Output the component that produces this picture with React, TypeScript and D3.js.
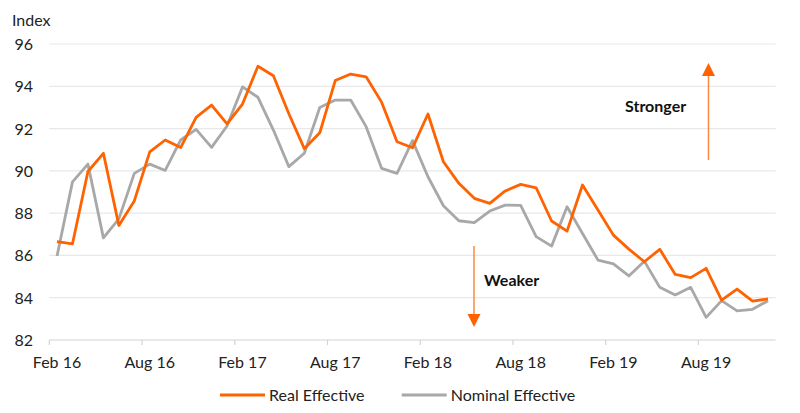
import React, { useRef, useEffect } from "react";
import * as d3 from "d3";

// monthly, Feb 2016 .. Dec 2019
const realEffective = [
  86.65, 86.55, 89.97, 90.83, 87.42, 88.58, 90.9, 91.46, 91.1, 92.53, 93.11, 92.22,
  93.16, 94.95, 94.5, 92.7, 91.05, 91.8, 94.27, 94.58, 94.45, 93.25, 91.38, 91.09,
  92.69, 90.43, 89.41, 88.7, 88.46, 89.05, 89.36, 89.2, 87.63, 87.15, 89.33, 88.15,
  86.96, 86.3, 85.7, 86.29, 85.1, 84.95, 85.39, 83.89, 84.41, 83.84, 83.94,
];
const nominalEffective = [
  85.97, 89.48, 90.32, 86.83, 87.73, 89.88, 90.32, 90.02, 91.46, 91.96, 91.11, 92.12,
  93.97, 93.48, 91.93, 90.2, 90.83, 93.0, 93.35, 93.35, 92.09, 90.12, 89.88, 91.43,
  89.72, 88.35, 87.64, 87.55, 88.1, 88.38, 88.37, 86.89, 86.44, 88.3, 87.04, 85.78,
  85.6, 85.03, 85.73, 84.49, 84.13, 84.49, 83.07, 83.86, 83.38, 83.45, 83.86,
];
const xLabels = ["Feb 16", "Aug 16", "Feb 17", "Aug 17", "Feb 18", "Aug 18", "Feb 19", "Aug 19"];
const yTicks = [82, 84, 86, 88, 90, 92, 94, 96];
const seriesNames = ["Real Effective", "Nominal Effective"];

const ORANGE = "#FF6200";
const GREY = "#A8A8A8";
const FONT = "Lato, 'Open Sans', sans-serif";

export default function App() {
  const ref = useRef<SVGSVGElement>(null);

  useEffect(() => {
    if (!ref.current) return;
    const svg = d3.select(ref.current);
    svg.selectAll("*").remove();

    const n = realEffective.length;
    const x = d3.scaleLinear().domain([-0.5, n - 0.5]).range([49.3, 775.7]);
    const y = d3.scaleLinear().domain([82, 96]).range([340, 44]);

    // gridlines
    svg.append("g")
      .selectAll("line")
      .data(yTicks.filter(t => t > 82))
      .join("line")
      .attr("x1", x(-0.5))
      .attr("x2", x(n - 0.5))
      .attr("y1", d => y(d))
      .attr("y2", d => y(d))
      .attr("stroke", "#E8E8E8")
      .attr("stroke-width", 1.2);

    // x axis line + ticks every 6 months
    svg.append("line")
      .attr("x1", x(-0.5))
      .attr("x2", x(n - 0.5))
      .attr("y1", y(82))
      .attr("y2", y(82))
      .attr("stroke", "#D4D4D4")
      .attr("stroke-width", 1.2);
    svg.append("g")
      .selectAll("line")
      .data(d3.range(0, n, 6))
      .join("line")
      .attr("x1", d => x(d - 0.5))
      .attr("x2", d => x(d - 0.5))
      .attr("y1", y(82))
      .attr("y2", y(82) + 5)
      .attr("stroke", "#D4D4D4")
      .attr("stroke-width", 1.2);

    // x labels
    svg.append("g")
      .selectAll("text")
      .data(xLabels)
      .join("text")
      .attr("x", (_, i) => x(i * 6))
      .attr("y", 368)
      .attr("text-anchor", "middle")
      .attr("font-family", FONT)
      .attr("font-size", 16)
      .attr("fill", "#222")
      .text(d => d);

    // y labels
    svg.append("g")
      .selectAll("text")
      .data(yTicks)
      .join("text")
      .attr("x", 33)
      .attr("y", d => y(d) + 6)
      .attr("text-anchor", "end")
      .attr("font-family", FONT)
      .attr("font-size", 16)
      .attr("fill", "#222")
      .text(d => d);

    svg.append("text")
      .attr("x", 12)
      .attr("y", 26)
      .attr("font-family", FONT)
      .attr("font-size", 16)
      .attr("fill", "#222")
      .text("Index");

    const line = d3.line<number>()
      .x((_, i) => x(i))
      .y(d => y(d));

    svg.append("path")
      .datum(nominalEffective)
      .attr("fill", "none")
      .attr("stroke", GREY)
      .attr("stroke-width", 2.8)
      .attr("stroke-linejoin", "round")
      .attr("d", line);

    svg.append("path")
      .datum(realEffective)
      .attr("fill", "none")
      .attr("stroke", ORANGE)
      .attr("stroke-width", 2.8)
      .attr("stroke-linejoin", "round")
      .attr("d", line);

    // annotations
    const arrowLine = "#F98A45";
    svg.append("line")
      .attr("x1", 708.5).attr("x2", 708.5)
      .attr("y1", 160).attr("y2", 75)
      .attr("stroke", arrowLine).attr("stroke-width", 1.5);
    svg.append("path")
      .attr("d", "M708.5,63 L715,76 L702,76 Z")
      .attr("fill", ORANGE);
    svg.append("text")
      .attr("x", 625).attr("y", 112)
      .attr("font-family", FONT)
      .attr("font-size", 16)
      .attr("font-weight", "bold")
      .attr("fill", "#111")
      .text("Stronger");

    svg.append("line")
      .attr("x1", 474).attr("x2", 474)
      .attr("y1", 246).attr("y2", 315)
      .attr("stroke", arrowLine).attr("stroke-width", 1.5);
    svg.append("path")
      .attr("d", "M474,327 L480.5,314 L467.5,314 Z")
      .attr("fill", ORANGE);
    svg.append("text")
      .attr("x", 484).attr("y", 286)
      .attr("font-family", FONT)
      .attr("font-size", 16)
      .attr("font-weight", "bold")
      .attr("fill", "#111")
      .text("Weaker");

    // legend
    const legend = [
      { name: seriesNames[0], color: ORANGE, x0: 220 },
      { name: seriesNames[1], color: GREY, x0: 401.7 },
    ];
    const lg = svg.append("g");
    legend.forEach(l => {
      lg.append("line")
        .attr("x1", l.x0).attr("x2", l.x0 + 45)
        .attr("y1", 395).attr("y2", 395)
        .attr("stroke", l.color).attr("stroke-width", 2.8);
      lg.append("text")
        .attr("x", l.x0 + 49).attr("y", 401)
        .attr("font-family", FONT)
        .attr("font-size", 16)
        .attr("fill", "#222")
        .text(l.name);
    });
  }, []);

  return (
    <svg
      ref={ref}
      width={800}
      height={413}
      style={{ position: "absolute", left: 0, top: 0, background: "#fff" }}
    />
  );
}
